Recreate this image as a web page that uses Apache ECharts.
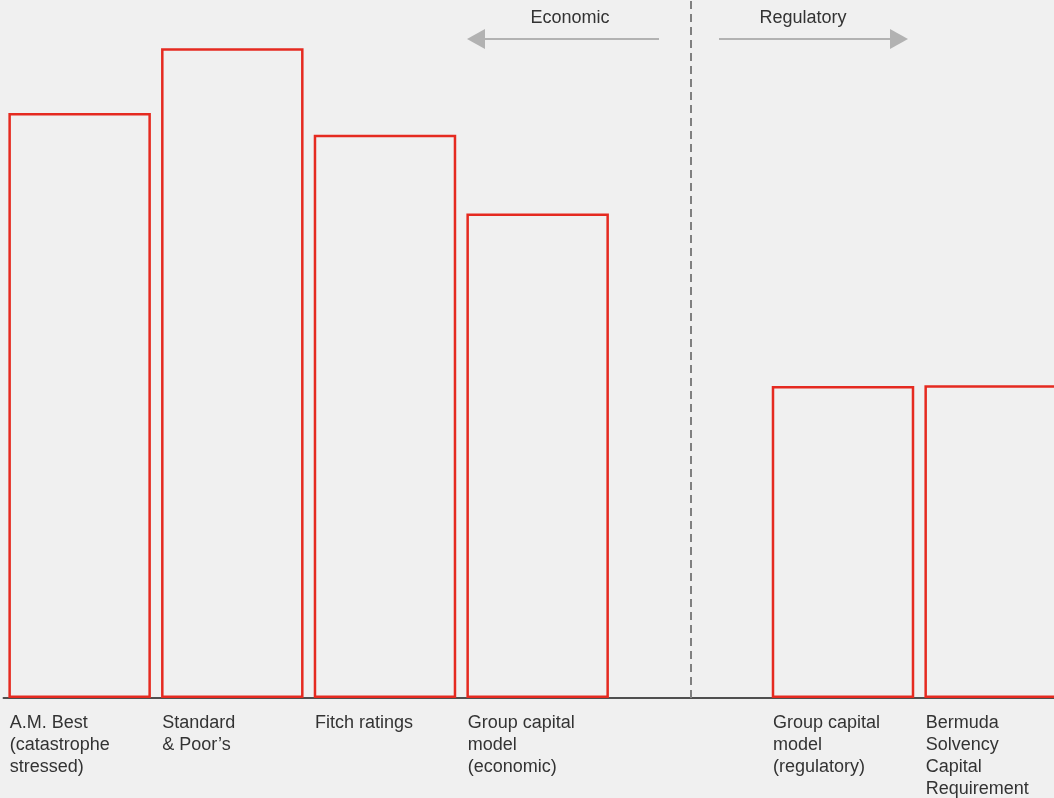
<!DOCTYPE html>
<html>
<head>
<meta charset="utf-8">
<script src="https://cdn.jsdelivr.net/npm/echarts@6/dist/echarts.min.js"></script>
<style>
html, body { margin: 0; padding: 0; background: #f0f0f0; }
#chart { width: 1054px; height: 798px; }
</style>
</head>
<body>
<div id="chart"></div>
<script>
// categories (the empty slot holds the divider line)
const categories = [
    'A.M. Best\n(catastrophe\nstressed)',
    'Standard\n& Poor’s',
    'Fitch ratings',
    'Group capital\nmodel\n(economic)',
    '',
    'Group capital\nmodel\n(regulatory)',
    'Bermuda\nSolvency\nCapital\nRequirement'
];
// relative capital requirement, % of axis height
const values = [83.8, 93.1, 80.7, 69.4, null, 44.7, 44.8];
const dividerIndex = 4;
const leftTitle = 'Economic';
const rightTitle = 'Regulatory';

const font = '"Liberation Sans", Arial, sans-serif';
const textColor = '#333';
const red = '#e52a20';
const arrowColor = '#b2b2b2';

const myChart = echarts.init(document.getElementById('chart'));

const option = {
    backgroundColor: '#f0f0f0',
    animation: false,
    grid: {
        top: 0,
        bottom: 100,
        left: 3.3,
        // last bar runs past the right edge
        width: 1068.7,
        outerBoundsMode: 'none',
        containLabel: false
    },
    xAxis: {
        type: 'category',
        data: categories,
        axisLine: {
            lineStyle: { color: '#1a1a1a', width: 1.5 }
        },
        axisTick: { show: false },
        axisLabel: {
            interval: 0,
            margin: 14,
            align: 'center',
            verticalAlign: 'top',
            formatter: (v) => v.split('\n').map(s => '{t|' + s + '}').join('\n'),
            rich: {
                t: {
                    width: 140,
                    align: 'left',
                    fontSize: 18,
                    lineHeight: 22,
                    color: textColor,
                    fontFamily: font
                }
            }
        }
    },
    yAxis: {
        type: 'value',
        min: 0,
        max: 100,
        show: false
    },
    series: [
        {
            type: 'bar',
            data: values,
            // border is drawn inside the bar, so widen by the border width
            barWidth: 142.5,
            itemStyle: {
                color: 'rgba(0,0,0,0)',
                borderColor: red,
                borderWidth: 2.5
            },
            markLine: {
                silent: true,
                symbol: 'none',
                label: { show: false },
                lineStyle: {
                    color: '#808080',
                    width: 2,
                    type: [8, 5]
                },
                data: [{ xAxis: dividerIndex }]
            }
        }
    ],
    graphic: [
        {
            type: 'text',
            x: 570,
            y: 18,
            style: {
                text: leftTitle,
                fill: textColor,
                font: '18px ' + font,
                align: 'center',
                verticalAlign: 'middle'
            }
        },
        {
            type: 'text',
            x: 803,
            y: 18,
            style: {
                text: rightTitle,
                fill: textColor,
                font: '18px ' + font,
                align: 'center',
                verticalAlign: 'middle'
            }
        },
        {
            type: 'line',
            shape: { x1: 659, y1: 39, x2: 482, y2: 39 },
            style: { stroke: arrowColor, lineWidth: 2 }
        },
        {
            type: 'polygon',
            shape: { points: [[467, 39], [485, 29], [485, 49]] },
            style: { fill: arrowColor }
        },
        {
            type: 'line',
            shape: { x1: 719, y1: 39, x2: 892, y2: 39 },
            style: { stroke: arrowColor, lineWidth: 2 }
        },
        {
            type: 'polygon',
            shape: { points: [[908, 39], [890, 29], [890, 49]] },
            style: { fill: arrowColor }
        }
    ]
};

myChart.setOption(option);
</script>
</body>
</html>
